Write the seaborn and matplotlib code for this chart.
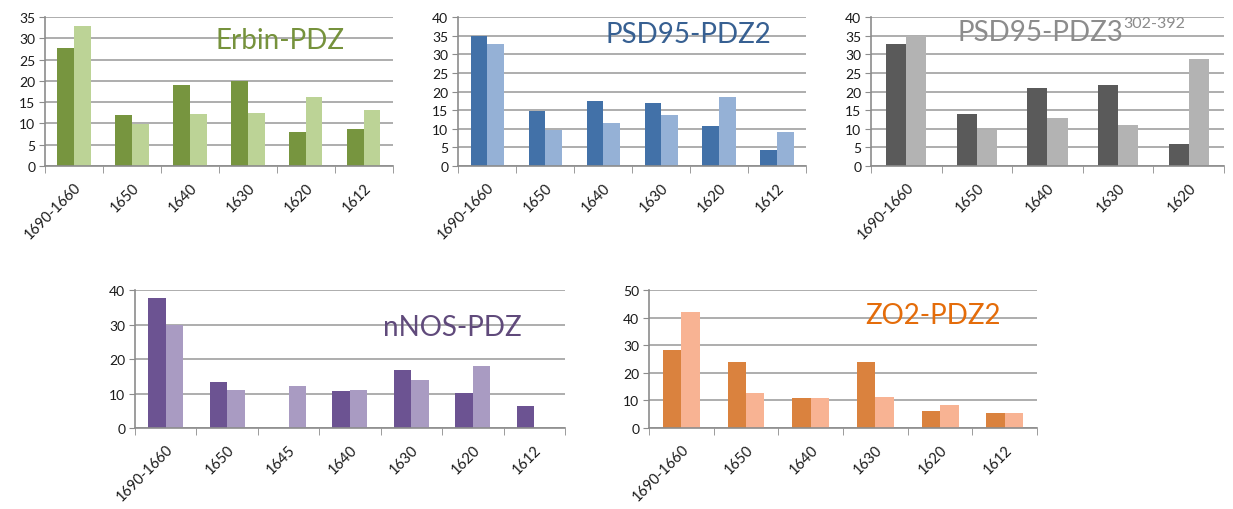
import matplotlib
matplotlib.use('Agg')  # Use non-interactive backend
import matplotlib.pyplot as plt
import pandas as pd
import numpy as np
import seaborn as sns

sns.set_style("white")
plt.rcParams['font.family'] = ['Lato', 'DejaVu Sans']

# Data
bands6 = ["1690-1660", "1650", "1640", "1630", "1620", "1612"]
bands5 = ["1690-1660", "1650", "1640", "1630", "1620"]
bands7 = ["1690-1660", "1650", "1645", "1640", "1630", "1620", "1612"]

erbin_dark = [27.8, 11.9, 19.1, 20.0, 8.1, 8.8]
erbin_light = [32.8, 9.9, 12.2, 12.5, 16.2, 13.2]

pdz2_dark = [34.9, 14.9, 17.5, 16.8, 10.7, 4.3]
pdz2_light = [32.8, 9.8, 11.5, 13.6, 18.5, 9.2]

pdz3_dark = [32.8, 13.9, 21.0, 21.7, 6.0]
pdz3_light = [34.9, 9.8, 12.9, 11.0, 28.8]

nnos_dark = [37.8, 13.3, 0, 10.6, 16.7, 10.1, 6.3]
nnos_light = [30.0, 11.0, 12.1, 11.0, 14.0, 17.9, 0]

zo2_dark = [28.1, 23.8, 10.8, 23.8, 6.0, 5.5]
zo2_light = [42.0, 12.7, 10.8, 11.3, 8.4, 5.5]


def draw_panel(ax, cats, dark, light, colors, ymax, ystep, title, title_color, tx, ty):
    n = len(cats)
    df = pd.DataFrame({
        "band": cats + cats,
        "series": ["a"] * n + ["b"] * n,
        "value": dark + light,
    })
    sns.barplot(data=df, x="band", y="value", hue="series", palette=colors,
                width=0.57, saturation=1, linewidth=0, legend=False, ax=ax)
    ax.set_ylim(0, ymax)
    ax.set_xlim(-0.5, n - 0.5)
    ax.set_yticks(np.arange(0, ymax + 1, ystep))
    ax.yaxis.grid(True, color="#a0a0a0", lw=1.2)
    ax.set_axisbelow(True)
    ax.set_xlabel("")
    ax.set_ylabel("")
    for s in ["top", "right"]:
        ax.spines[s].set_visible(False)
    for s in ["left", "bottom"]:
        ax.spines[s].set_color("#8c8c8c")
        ax.spines[s].set_linewidth(1.2)
    ax.tick_params(axis="y", length=4, color="#8c8c8c", labelsize=10,
                   labelcolor="#1a1a1a", pad=3, direction="out", left=True)
    ax.tick_params(axis="x", which="major", length=0, labelsize=10.5,
                   labelcolor="#1a1a1a", pad=10)
    ax.set_xticks(np.arange(-0.5, n, 1.0), minor=True)
    ax.tick_params(axis="x", which="minor", length=5, color="#8c8c8c",
                   direction="out", bottom=True)
    ax.set_xticks(range(n))
    ax.set_xticklabels(cats, rotation=45, ha="right", rotation_mode="anchor")
    t = ax.text(tx, ty, title, transform=ax.transAxes, ha="center", va="center",
                fontsize=20, color=title_color)
    return t


fig = plt.figure(figsize=(12.33, 5.10), dpi=100)

ax1 = fig.add_axes([0.0365, 0.6725, 0.2822, 0.2922])
ax2 = fig.add_axes([0.3715, 0.6725, 0.2822, 0.2922])
ax3 = fig.add_axes([0.7064, 0.6725, 0.2863, 0.2922])
ax4 = fig.add_axes([0.1095, 0.1588, 0.3487, 0.2706])
ax5 = fig.add_axes([0.5264, 0.1588, 0.3147, 0.2706])

draw_panel(ax1, bands6, erbin_dark, erbin_light, ["#77953f", "#bcd396"],
           35, 5, "Erbin-PDZ", "#76923c", 0.675, 0.846)
draw_panel(ax2, bands6, pdz2_dark, pdz2_light, ["#4271a8", "#95b1d6"],
           40, 5, "PSD95-PDZ2", "#376092", 0.661, 0.886)
t3 = draw_panel(ax3, bands5, pdz3_dark, pdz3_light, ["#5a5a5a", "#b3b3b3"],
                40, 5, "PSD95-PDZ3", "#8c8c8c", 0.48, 0.90)
ax3.annotate("302-392", xy=(1.0, 0.68), xycoords=t3, ha="left", va="baseline",
             fontsize=11.5, color="#8c8c8c")
draw_panel(ax4, bands7, nnos_dark, nnos_light, ["#6c5392", "#a99bc2"],
           40, 10, "nNOS-PDZ", "#604a7b", 0.737, 0.73)
draw_panel(ax5, bands6, zo2_dark, zo2_light, ["#da823e", "#f8b393"],
           50, 10, "ZO2-PDZ2", "#e46c0a", 0.732, 0.82)

fig.savefig("out.png", dpi=100)
